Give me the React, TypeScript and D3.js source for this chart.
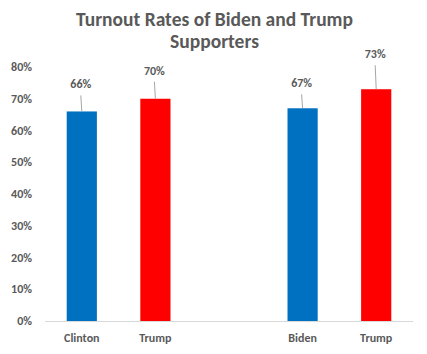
import React from "react";
import * as d3 from "d3";

const categories = ["Clinton", "Trump", "", "Biden", "Trump "];
const values: (number | null)[] = [66, 70, null, 67, 73];
const colors = ["#0070C0", "#FF0000", "", "#0070C0", "#FF0000"];
const yTicks = [0, 10, 20, 30, 40, 50, 60, 70, 80];
const titleLines = ["Turnout Rates of Biden and Trump", "Supporters"];
// label offsets (data-label positions above bar, in px)
const labelOffsets = [20, 21, 0, 18, 28];

export default function App() {
  const W = 427, H = 354;
  const left = 45, right = 413, top = 67, bottom = 321;
  const x = d3.scaleBand<string>().domain(categories).range([left, right]).paddingInner(0.59).paddingOuter(0.295);
  const y = d3.scaleLinear().domain([0, 80]).range([bottom, top]);
  const font = "Calibri, Carlito, 'Open Sans', Arial, sans-serif";
  const textColor = "#595959";
  return (
    <svg width={W} height={H} style={{ position: "absolute", left: 0, top: 0 }} fontFamily={font}>
      <rect x={0} y={0} width={W} height={H} fill="#fff" />
      {titleLines.map((t, i) => (
        <text key={i} x={214.5} y={26 + i * 22} textAnchor="middle" fontSize={19.5} fontWeight="bold" fill={textColor}>
          {t}
        </text>
      ))}
      {yTicks.map((t) => (
        <text key={t} x={32} y={y(t)} dy="0.35em" textAnchor="end" fontSize={12} fontWeight="bold" fill={textColor}>
          {t}%
        </text>
      ))}
      {categories.map((c, i) => {
        const v = values[i];
        if (v == null) return null;
        const bx = x(c)!;
        const bw = x.bandwidth();
        const cx = bx + bw / 2;
        const ty = y(v);
        const ly = ty - labelOffsets[i];
        return (
          <g key={i}>
            <rect x={bx} y={ty} width={bw} height={bottom - ty} fill={colors[i]} />
            <line x1={cx - 1} y1={ly + 4} x2={cx} y2={ty} stroke="#a6a6a6" strokeWidth={1} />
            <text x={cx - 1} y={ly - 3} textAnchor="middle" fontSize={12} fontWeight="bold" fill={textColor}>
              {v}%
            </text>
          </g>
        );
      })}
      <line x1={left} x2={right} y1={bottom + 0.5} y2={bottom + 0.5} stroke="#d9d9d9" strokeWidth={1} />
      {categories.map((c, i) =>
        c.trim() ? (
          <text key={i} x={x(c)! + x.bandwidth() / 2} y={338} dy="0.35em" textAnchor="middle" fontSize={12} fontWeight="bold" fill={textColor}>
            {c.trim()}
          </text>
        ) : null
      )}
    </svg>
  );
}
